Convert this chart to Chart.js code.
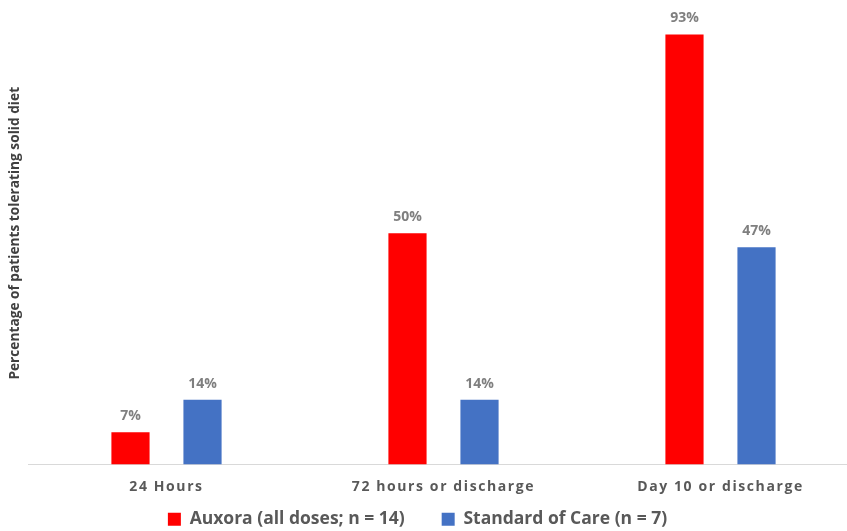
<!DOCTYPE html>
<html>
<head>
<meta charset="utf-8">
<script src="https://cdn.jsdelivr.net/npm/chart.js@4"></script>
<style>
    html, body { margin: 0; padding: 0; background: #fff; overflow: hidden; }
    #wrap { width: 847px; height: 531px; overflow: hidden; }
</style>
</head>
<body>
<div id="wrap"><canvas id="grafico" width="859" height="538"></canvas></div>
<script>
const categorias = ["24 Hours", "72 hours or discharge", "Day 10 or discharge"];
const auxora = [7, 50, 93];
const padrao = [14, 14, 47];
const nomesSeries = ["Auxora (all doses; n = 14)", "Standard of Care (n = 7)"];
const tituloY = "Percentage of patients tolerating solid diet";

const fonte = "'Open Sans', 'Noto Sans', sans-serif";

// rótulos em cima das barras
const rotulosBarras = {
    id: "rotulosBarras",
    afterDatasetsDraw(chart) {
        const ctx = chart.ctx;
        ctx.save();
        ctx.font = "bold 14px " + fonte;
        ctx.fillStyle = "#7f7f7f";
        ctx.textAlign = "center";
        ctx.textBaseline = "middle";
        chart.data.datasets.forEach(function (ds, i) {
            chart.getDatasetMeta(i).data.forEach(function (barra, j) {
                ctx.fillText(ds.data[j] + "%", barra.x, barra.y - 16);
            });
        });
        ctx.restore();
    }
};

// espaçamento entre letras no eixo x (sem recorte, a legenda encosta no eixo)
// e legenda um pouco deslocada para a esquerda, como no original
const ajustes = {
    id: "ajustes",
    afterLayout(chart) {
        const eixo = chart.scales.x;
        if (eixo && !eixo._ajustado) {
            const desenharRotulos = eixo.drawLabels.bind(eixo);
            eixo._computeLabelArea = function () {
                return undefined;
            };
            eixo.drawLabels = function (area) {
                chart.ctx.save();
                chart.ctx.letterSpacing = "1.6px";
                desenharRotulos(area);
                chart.ctx.restore();
            };
            eixo._ajustado = true;
        }

        const legenda = chart.legend;
        if (legenda && !legenda._ajustado) {
            const desenharLegenda = legenda.draw.bind(legenda);
            legenda.draw = function (area) {
                chart.ctx.save();
                chart.ctx.translate(-12, 0);
                desenharLegenda(area);
                chart.ctx.restore();
            };
            legenda._ajustado = true;
        }
    }
};

new Chart(document.getElementById("grafico"), {
    type: "bar",
    data: {
        labels: categorias,
        datasets: [{
            label: nomesSeries[0],
            data: auxora,
            backgroundColor: "#ff0000",
            categoryPercentage: 0.52,
            barPercentage: 0.53
        }, {
            label: nomesSeries[1],
            data: padrao,
            backgroundColor: "#4472c4",
            categoryPercentage: 0.52,
            barPercentage: 0.53
        }]
    },
    options: {
        responsive: false,
        animation: false,
        layout: { padding: { top: 2, left: 0, right: 0, bottom: 0 } },
        plugins: {
            legend: {
                position: "bottom",
                labels: {
                    boxWidth: 13,
                    boxHeight: 13,
                    padding: 37,
                    color: "#595959",
                    font: { family: fonte, size: 17.5, weight: "bold" }
                }
            },
            tooltip: { enabled: false }
        },
        scales: {
            x: {
                grid: { display: false, drawTicks: false },
                border: { display: true, color: "#d9d9d9", width: 1 },
                ticks: {
                    color: "#595959",
                    padding: 14,
                    font: { family: fonte, size: 14, weight: "bold" }
                },
                afterFit: function (eixo) {
                    eixo.height = 9;
                }
            },
            y: {
                min: 0,
                max: 100,
                grid: { display: false },
                border: { display: false },
                ticks: { display: false },
                title: {
                    display: true,
                    text: tituloY,
                    color: "#404040",
                    padding: { top: 7, bottom: 0 },
                    font: { family: fonte, size: 13.7, weight: "bold" }
                },
                afterFit: function (eixo) {
                    eixo.width = 28;
                }
            }
        }
    },
    plugins: [rotulosBarras, ajustes]
});
</script>
</body>
</html>
